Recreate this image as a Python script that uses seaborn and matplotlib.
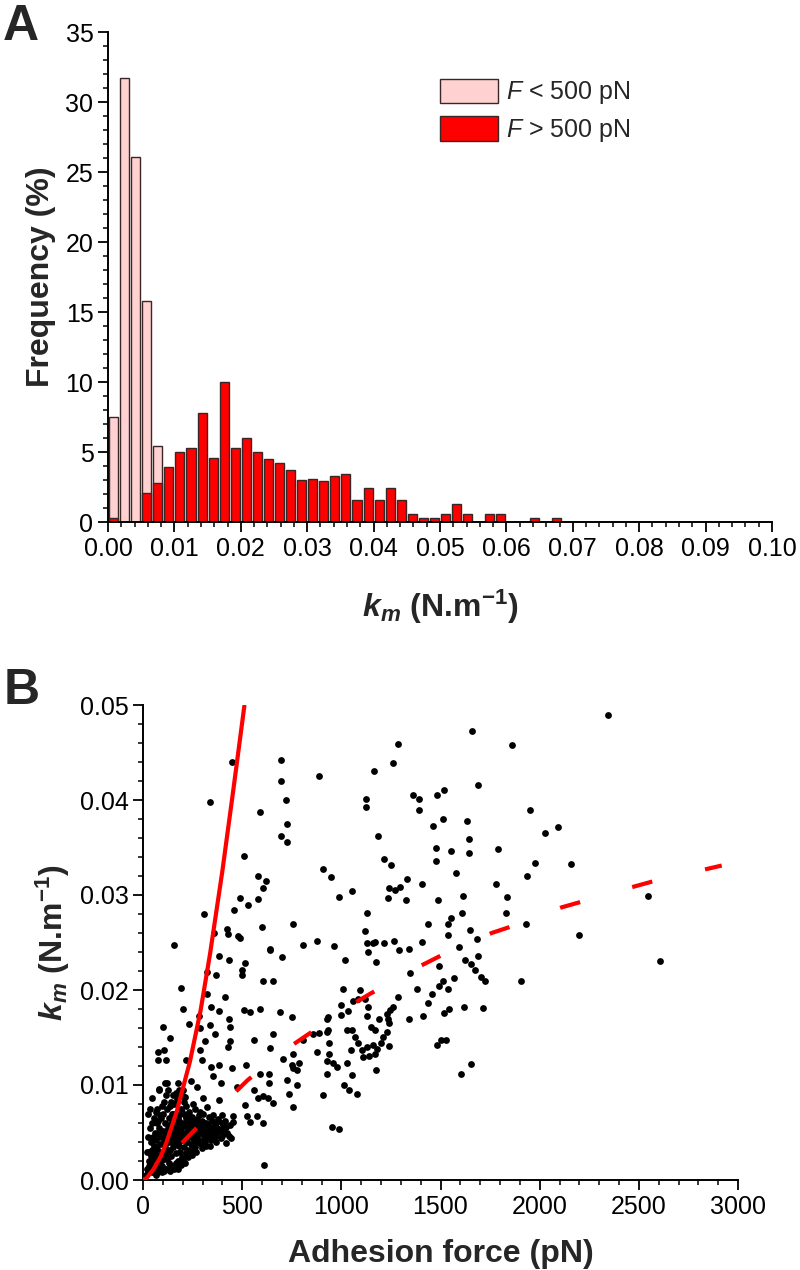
import matplotlib
matplotlib.use("Agg")
import matplotlib.pyplot as plt
import matplotlib.patches as mpatches
from matplotlib.ticker import MultipleLocator, FormatStrFormatter
import seaborn as sns
import numpy as np
import pandas as pd

# ---------------------------------------------------------------------------
# Panel A data : k_m histogram, frequency (%) per bin (bin width 0.1/60)
# ---------------------------------------------------------------------------
BIN_W = 0.1 / 60
pink_pct = [7.5, 31.7, 26.1, 15.8, 5.4]          # F < 500 pN
red_pct = [0.3, 0, 0, 2.1, 2.8, 3.9, 5.0, 5.3, 7.8, 4.6,
           10.0, 5.3, 6.0, 5.0, 4.5, 4.2, 3.7, 3.0, 3.1, 2.9,
           3.3, 3.4, 1.6, 2.4, 1.6, 2.4, 1.6, 0.6, 0.3, 0.3,
           0.6, 1.3, 0.6, 0, 0.6, 0.6, 0, 0, 0.3, 0, 0.3]   # F > 500 pN

bin_edges = np.arange(len(red_pct) + 1) * BIN_W
bin_centers = bin_edges[:-1] + BIN_W / 2

# ---------------------------------------------------------------------------
# Panel B data : adhesion force (pN) vs k_m (N/m)
# ---------------------------------------------------------------------------
cluster_pts = [
    (15, 0.0005), (20, 0.0012), (25, 0.0008), (28, 0.0020), (30, 0.0015), (32, 0.0030),
    (35, 0.0010), (38, 0.0025), (40, 0.0040), (42, 0.0018), (45, 0.0032), (48, 0.0012),
    (50, 0.0045), (52, 0.0022), (55, 0.0036), (58, 0.0008), (60, 0.0050), (62, 0.0028),
    (65, 0.0015), (68, 0.0042), (70, 0.0060), (72, 0.0033), (75, 0.0020), (78, 0.0048),
    (80, 0.0010), (82, 0.0055), (85, 0.0038), (88, 0.0025), (90, 0.0065), (92, 0.0045),
    (95, 0.0015), (98, 0.0030), (100, 0.0052), (102, 0.0070), (105, 0.0040), (108, 0.0022),
    (110, 0.0060), (112, 0.0035), (115, 0.0012), (118, 0.0048), (120, 0.0075), (122, 0.0028),
    (125, 0.0055), (128, 0.0040), (130, 0.0018), (132, 0.0065), (135, 0.0032), (138, 0.0050),
    (140, 0.0082), (142, 0.0025), (145, 0.0045), (148, 0.0060), (150, 0.0035), (152, 0.0090),
    (155, 0.0052), (158, 0.0015), (160, 0.0070), (162, 0.0040), (165, 0.0028), (168, 0.0058),
    (170, 0.0085), (172, 0.0045), (175, 0.0020), (178, 0.0065), (180, 0.0036), (182, 0.0095),
    (185, 0.0052), (188, 0.0030), (190, 0.0075), (192, 0.0042), (195, 0.0060), (198, 0.0024),
    (200, 0.0088), (203, 0.0050), (206, 0.0035), (210, 0.0068), (212, 0.0045), (215, 0.0028),
    (218, 0.0078), (220, 0.0055), (224, 0.0040), (228, 0.0062), (230, 0.0032), (234, 0.0072),
    (238, 0.0048), (240, 0.0058), (244, 0.0038), (248, 0.0066), (252, 0.0052), (256, 0.0044),
    (260, 0.0075), (264, 0.0035), (268, 0.0060), (272, 0.0050), (276, 0.0042), (280, 0.0068),
    (285, 0.0055), (290, 0.0038), (295, 0.0062), (300, 0.0048), (305, 0.0070), (310, 0.0052),
    (315, 0.0040), (320, 0.0060), (326, 0.0045), (332, 0.0066), (338, 0.0055), (345, 0.0042),
    (350, 0.0062), (356, 0.0050), (362, 0.0058), (370, 0.0046), (376, 0.0064), (384, 0.0054),
    (392, 0.0044), (400, 0.0060), (410, 0.0050), (420, 0.0056), (432, 0.0046), (445, 0.0044),
    (22, 0.0030), (26, 0.0045), (34, 0.0055), (44, 0.0060), (46, 0.0008), (54, 0.0065),
    (56, 0.0012), (64, 0.0072), (66, 0.0005), (74, 0.0008), (76, 0.0062), (84, 0.0012),
    (86, 0.0068), (94, 0.0078), (96, 0.0008), (104, 0.0010), (106, 0.0082), (114, 0.0090),
    (116, 0.0025), (124, 0.0012), (126, 0.0095), (134, 0.0010), (136, 0.0078), (144, 0.0015),
    (146, 0.0070), (154, 0.0012), (156, 0.0080), (164, 0.0018), (166, 0.0092), (174, 0.0012),
    (176, 0.0038), (184, 0.0020), (186, 0.0070), (194, 0.0016), (196, 0.0048), (204, 0.0022),
    (208, 0.0082), (214, 0.0018), (216, 0.0065), (226, 0.0024), (232, 0.0052), (236, 0.0030),
    (246, 0.0026), (250, 0.0080), (254, 0.0034), (262, 0.0052), (266, 0.0030), (274, 0.0064),
    (282, 0.0040), (288, 0.0072), (298, 0.0034), (308, 0.0058), (318, 0.0036), (328, 0.0052),
    (340, 0.0036), (352, 0.0068), (366, 0.0040), (380, 0.0052), (396, 0.0068), (415, 0.0062),
    (438, 0.0058), (27, 0.0070), (44, 0.0086), (35, 0.0075), (69, 0.0075), (82, 0.0096),
    (119, 0.0102), (187, 0.0089), (203, 0.0095), (178, 0.0102), (210, 0.0087),
    (60, 0.0035), (70, 0.0025), (90, 0.0020), (100, 0.0038), (110, 0.0045), (130, 0.0058),
    (140, 0.0040), (150, 0.0070), (160, 0.0055), (170, 0.0048), (180, 0.0062), (190, 0.0055),
    (200, 0.0042), (210, 0.0058), (220, 0.0048), (230, 0.0066), (240, 0.0045), (250, 0.0062),
    (260, 0.0055), (270, 0.0045), (280, 0.0058), (290, 0.0050), (300, 0.0060), (310, 0.0044),
    (320, 0.0052), (330, 0.0058), (340, 0.0048), (350, 0.0055), (360, 0.0045), (370, 0.0056),
    (380, 0.0062), (390, 0.0052), (405, 0.0055), (425, 0.0050), (120, 0.0022), (135, 0.0045),
    (165, 0.0065), (195, 0.0072), (225, 0.0070), (255, 0.0040),
]

spread_pts = [
    (509, 0.0341), (309, 0.0280), (358, 0.0260), (582, 0.0320), (607, 0.0307), (620, 0.0315),
    (491, 0.0297), (461, 0.0284), (531, 0.0289), (580, 0.0296), (598, 0.0266), (425, 0.0264),
    (430, 0.0259), (481, 0.0257), (491, 0.0255), (639, 0.0243), (906, 0.0327), (946, 0.0319),
    (988, 0.0298), (1056, 0.0304), (758, 0.0269), (806, 0.0247), (877, 0.0252), (963, 0.0246),
    (1128, 0.0281), (1117, 0.0262), (1217, 0.0338), (1249, 0.0332), (1241, 0.0307), (1237, 0.0297),
    (1273, 0.0305), (1296, 0.0308), (156, 0.0247),
    (1136, 0.0240), (1128, 0.0249), (1175, 0.0230), (1162, 0.0249), (1172, 0.0251), (1217, 0.0250),
    (1019, 0.0232), (1266, 0.0252), (1291, 0.0242), (1284, 0.0193), (1262, 0.0182), (1246, 0.0179),
    (1229, 0.0175), (1237, 0.0170), (1242, 0.0165), (1229, 0.0156), (1209, 0.0151), (1242, 0.0141),
    (1177, 0.0116), (1198, 0.0144), (1182, 0.0138), (1128, 0.0140), (1111, 0.0130), (1141, 0.0131),
    (1170, 0.0133), (1162, 0.0142), (1192, 0.0170), (1172, 0.0158), (1148, 0.0161), (1128, 0.0173),
    (1136, 0.0182), (1119, 0.0191), (1094, 0.0200), (1085, 0.0191), (1061, 0.0188), (1036, 0.0178),
    (1010, 0.0201), (997, 0.0184), (998, 0.0174), (1027, 0.0158), (1056, 0.0158), (1069, 0.0151),
    (1086, 0.0144), (1106, 0.0137), (1047, 0.0137), (1030, 0.0123), (1052, 0.0111), (960, 0.0123),
    (980, 0.0119), (1014, 0.0100), (1041, 0.0095), (1078, 0.0091), (951, 0.0056), (990, 0.0054),
    (935, 0.0172), (928, 0.0169), (935, 0.0158), (926, 0.0156), (886, 0.0155), (940, 0.0144),
    (940, 0.0133), (926, 0.0125), (926, 0.0112), (906, 0.0089), (876, 0.0135), (859, 0.0154),
    (808, 0.0147), (753, 0.0172), (691, 0.0177), (656, 0.0154), (704, 0.0127), (755, 0.0133),
    (750, 0.0121), (788, 0.0123), (778, 0.0116), (755, 0.0118), (724, 0.0105), (738, 0.0091),
    (778, 0.0100), (755, 0.0077), (640, 0.0139), (637, 0.0112), (634, 0.0102), (607, 0.0088),
    (632, 0.0086), (657, 0.0081), (582, 0.0086), (590, 0.0112), (560, 0.0095), (607, 0.0209),
    (657, 0.0209), (640, 0.0242), (699, 0.0235), (590, 0.0180), (560, 0.0147), (509, 0.0179),
    (540, 0.0177), (516, 0.0228), (498, 0.0221), (499, 0.0216), (413, 0.0193), (435, 0.0170),
    (439, 0.0161), (439, 0.0146), (427, 0.0140), (447, 0.0118), (472, 0.0098), (518, 0.0121),
    (514, 0.0079), (523, 0.0067), (540, 0.0061), (573, 0.0067), (604, 0.0060), (609, 0.0016),
    (385, 0.0178), (363, 0.0154), (338, 0.0163), (325, 0.0196), (343, 0.0182), (325, 0.0219),
    (368, 0.0216), (385, 0.0236), (435, 0.0232), (281, 0.0173), (287, 0.0160), (234, 0.0164),
    (287, 0.0137), (298, 0.0126), (314, 0.0146), (192, 0.0202), (200, 0.0180), (136, 0.0149),
    (103, 0.0161), (77, 0.0135), (106, 0.0137), (114, 0.0126), (77, 0.0126), (81, 0.0095),
    (113, 0.0102), (217, 0.0126), (240, 0.0104), (271, 0.0098), (304, 0.0086), (321, 0.0077),
    (343, 0.0119), (351, 0.0109), (385, 0.0121), (392, 0.0102), (385, 0.0084), (452, 0.0067),
    (455, 0.0061), (419, 0.0039), (397, 0.0046), (355, 0.0051), (329, 0.0046), (287, 0.0040),
]

upper_pts = [
    (450, 0.0440), (338, 0.0398), (694, 0.0442), (696, 0.0420), (721, 0.0400), (590, 0.0387),
    (724, 0.0375), (696, 0.0362), (724, 0.0356), (889, 0.0425), (1124, 0.0401), (1123, 0.0393),
    (1163, 0.0431), (1259, 0.0439), (1288, 0.0459), (1183, 0.0362),
]

right_pts = [
    (2346, 0.0489), (1660, 0.0473), (1860, 0.0458), (1691, 0.0416), (1360, 0.0405), (1390, 0.0401),
    (1484, 0.0405), (1518, 0.0411), (1390, 0.0390), (1953, 0.0390), (1464, 0.0373), (1513, 0.0380),
    (1634, 0.0378), (1646, 0.0359), (1555, 0.0346), (1477, 0.0350), (1479, 0.0336), (1642, 0.0344),
    (1788, 0.0348), (2028, 0.0365), (2094, 0.0372), (1978, 0.0334), (2160, 0.0333), (1580, 0.0323),
    (1778, 0.0312), (1938, 0.0320), (1330, 0.0317), (1407, 0.0312), (1326, 0.0295), (1487, 0.0295),
    (1613, 0.0299), (1833, 0.0298), (1832, 0.0281), (1608, 0.0281), (1553, 0.0276), (1439, 0.0270),
    (1536, 0.0270), (1539, 0.0258), (1649, 0.0263), (1683, 0.0254), (1930, 0.0269), (2200, 0.0258),
    (2545, 0.0299), (2605, 0.0231), (1405, 0.0251), (1591, 0.0245), (1687, 0.0236), (1625, 0.0232),
    (1654, 0.0227), (1676, 0.0221), (1703, 0.0214), (1723, 0.0210), (1904, 0.0210), (1568, 0.0213),
    (1343, 0.0243), (1345, 0.0218), (1493, 0.0225), (1536, 0.0201), (1514, 0.0209), (1494, 0.0204),
    (1456, 0.0196), (1437, 0.0186), (1383, 0.0201), (1341, 0.0170), (1412, 0.0173), (1518, 0.0176),
    (1545, 0.0180), (1618, 0.0182), (1716, 0.0181), (1480, 0.0142), (1502, 0.0147), (1529, 0.0147),
    (1603, 0.0112), (1655, 0.0122),
]

# fitted curves
fit_solid_force = [0, 18, 52, 90, 119, 170, 237, 290, 338, 400, 455, 511]
fit_solid_km = [0, 0.0002, 0.0011, 0.0025, 0.0040, 0.0072, 0.0125, 0.0178, 0.0238,
                0.0325, 0.0410, 0.0499]
fit_dash_force = [0, 153, 187, 355, 434, 527, 704, 788, 1056, 1145, 1405, 1500,
                  1758, 1859, 2111, 2212, 2461, 2565, 2814, 2918]
fit_dash_km = [0, 0.0030, 0.0037, 0.0073, 0.0086, 0.0105, 0.0135, 0.0147, 0.0185, 0.0196,
               0.0226, 0.0236, 0.0260, 0.0267, 0.0287, 0.0293, 0.0308, 0.0314, 0.0326, 0.0331]

PINK = "#FFD1D1"
RED = "#FF0000"
EDGE = "#3a2626"

sns.set_theme(style="ticks")
plt.rcParams.update({
    "font.family": ["Liberation Sans", "DejaVu Sans"],
    "mathtext.fontset": "custom",
    "mathtext.rm": "Liberation Sans",
    "mathtext.it": "Liberation Sans:italic",
    "mathtext.bf": "Liberation Sans:bold",
    "axes.linewidth": 1.4,
    "xtick.major.width": 1.3, "ytick.major.width": 1.3,
    "xtick.minor.width": 1.1, "ytick.minor.width": 1.1,
    "xtick.major.size": 7, "ytick.major.size": 7,
    "xtick.minor.size": 3.6, "ytick.minor.size": 3.6,
    "xtick.color": "black", "ytick.color": "black",
    "axes.edgecolor": "black",
})
if "mathtext.bfit" in plt.rcParams:
    plt.rcParams["mathtext.bfit"] = "Liberation Sans:bold:italic"
    KM = r"$\mathbfit{k}_{\mathbfit{m}}$"
else:
    KM = r"$\mathbf{\mathit{k}_{\mathit{m}}}$"
KM_LABEL = KM + r" (N.m$^{\mathbf{-1}}$)"

TICK_FS = 18
LABEL_FS = 23

pink_df = pd.DataFrame({"km": bin_centers[:len(pink_pct)], "pct": pink_pct})
red_df = pd.DataFrame({"km": bin_centers, "pct": red_pct})

fig = plt.figure(figsize=(8, 12.7), dpi=100)

# ---------------------------------------------------------------------------
# A : histogram
# ---------------------------------------------------------------------------
axA = fig.add_axes([108 / 800, 1 - 522 / 1270, 664 / 800, 490 / 1270])
sns.histplot(data=pink_df, x="km", weights="pct", bins=list(bin_edges[:len(pink_pct) + 1]),
             shrink=0.82, color=PINK, alpha=1, edgecolor=EDGE, linewidth=1.0, ax=axA)
sns.histplot(data=red_df, x="km", weights="pct", bins=list(bin_edges),
             shrink=0.82, color=RED, alpha=1, edgecolor=EDGE, linewidth=1.0, ax=axA)
axA.set_xlim(0, 0.10)
axA.set_ylim(0, 35)
axA.xaxis.set_major_locator(MultipleLocator(0.01))
axA.xaxis.set_minor_locator(MultipleLocator(0.002))
axA.xaxis.set_major_formatter(FormatStrFormatter("%.2f"))
axA.yaxis.set_major_locator(MultipleLocator(5))
axA.yaxis.set_minor_locator(MultipleLocator(1))
axA.tick_params(which="both", direction="out", labelsize=TICK_FS)
axA.set_xlabel(KM_LABEL, fontsize=LABEL_FS, fontweight="bold")
axA.set_ylabel("Frequency (%)", fontsize=LABEL_FS, fontweight="bold")
axA.xaxis.set_label_coords(0.5, -0.135)
axA.yaxis.set_label_coords(-0.078, 0.5)
sns.despine(ax=axA)

handles = [mpatches.Patch(facecolor=PINK, edgecolor=EDGE, linewidth=1.0,
                          label=r"$\mathit{F}$ < 500 pN"),
           mpatches.Patch(facecolor=RED, edgecolor=EDGE, linewidth=1.0,
                          label=r"$\mathit{F}$ > 500 pN")]
axA.legend(handles=handles, loc="upper left", bbox_to_anchor=(0.50, 0.905),
           frameon=False, fontsize=18, handlelength=2.3, handleheight=1.15,
           handletextpad=0.35, labelspacing=0.4, borderpad=0, borderaxespad=0)

# ---------------------------------------------------------------------------
# B : scatter with fits
# ---------------------------------------------------------------------------
all_pts = cluster_pts + spread_pts + upper_pts + right_pts
scatter_df = pd.DataFrame(all_pts, columns=["force", "km"])

axB = fig.add_axes([143 / 800, 1 - 1180 / 1270, 595 / 800, 475 / 1270])
sns.scatterplot(data=scatter_df, x="force", y="km", color="black", s=24, linewidth=0,
                ax=axB, zorder=2)
sns.lineplot(x=fit_solid_force, y=fit_solid_km, color=RED, linewidth=3,
             estimator=None, sort=False, ax=axB, zorder=3)
# dash pattern in units of line width: offset, (on, off)
sns.lineplot(x=fit_dash_force, y=fit_dash_km, color=RED, linewidth=3,
             estimator=None, sort=False, ax=axB, zorder=3,
             linestyle=(5.1, (5.0, 13.0)))
axB.set_xlim(0, 3000)
axB.set_ylim(0, 0.05)
axB.xaxis.set_major_locator(MultipleLocator(500))
axB.xaxis.set_minor_locator(MultipleLocator(100))
axB.yaxis.set_major_locator(MultipleLocator(0.01))
axB.yaxis.set_minor_locator(MultipleLocator(0.002))
axB.yaxis.set_major_formatter(FormatStrFormatter("%.2f"))
axB.tick_params(which="both", direction="out", labelsize=TICK_FS)
axB.set_xlabel("Adhesion force (pN)", fontsize=LABEL_FS, fontweight="bold")
axB.set_ylabel(KM_LABEL, fontsize=LABEL_FS, fontweight="bold")
axB.xaxis.set_label_coords(0.5, -0.125)
axB.yaxis.set_label_coords(-0.12, 0.5)
sns.despine(ax=axB)

fig.text(0.004, 1 - 4 / 1270, "A", fontsize=36, fontweight="bold", va="top", ha="left")
fig.text(0.004, 1 - 668 / 1270, "B", fontsize=36, fontweight="bold", va="top", ha="left")

fig.savefig("out.png", dpi=100)
